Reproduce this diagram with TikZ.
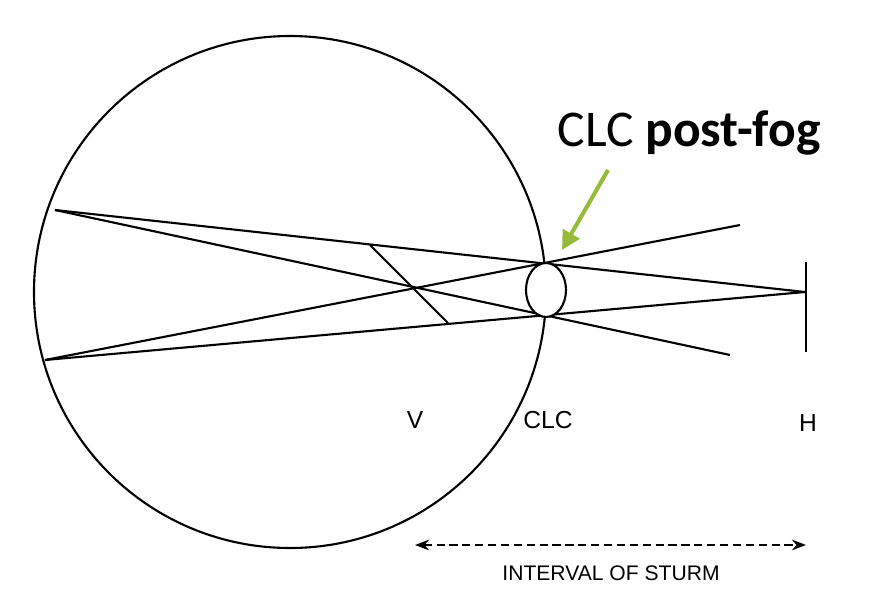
\documentclass[tikz,border=0pt]{standalone}
\usepackage{fontspec}
\setmainfont{Liberation Sans}
\newfontfamily\carlitofont{Carlito}
\usetikzlibrary{arrows.meta}
\definecolor{arrowgreen}{RGB}{150,186,60}
\begin{document}
\begin{tikzpicture}[x=0.03cm,y=-0.03cm,
  ray/.style={line width=1.8pt,black},
  lbl/.style={font=\fontsize{21}{24}\selectfont}]
\useasboundingbox (0,0) rectangle (883,611);
\draw[ray] (290,292) circle[radius=256];
\coordinate (A) at (55,210);
\coordinate (B) at (45,360);
\coordinate (H) at (805,292);
\coordinate (UR) at (740,225);
\coordinate (LR) at (730,355);
\draw[ray] (A) -- (H);
\draw[ray] (A) -- (LR);
\draw[ray] (B) -- (H);
\draw[ray] (B) -- (UR);
\draw[ray] (370,245) -- (448,323);
\draw[ray,fill=white] (546,290) ellipse[x radius=20,y radius=27];
\draw[ray] (806,262) -- (806,352);
\node[lbl] (v) at (415,420) {V};
\node[lbl] (clc) at (548,420) {CLC};
\node[lbl] (h) at (808,423) {H};
\coordinate (d1) at (415,545);
\coordinate (d2) at (806,545);
\draw[line width=1.8pt,dash pattern=on 7pt off 4pt,{Stealth[length=12pt]}-{Stealth[length=12pt]}] (d1) -- (d2);
\node[lbl,font=\fontsize{18}{20}\selectfont] (ios) at (611,573) {INTERVAL OF STURM};
\node[font=\carlitofont\fontsize{44}{48}\selectfont] (post) at (689,133) {CLC \textbf{post-fog}};
\coordinate (gs) at (608,170);
\coordinate (ge) at (562,250);
\draw[arrowgreen,line width=3.5pt,-{Triangle[length=16pt,width=16pt]}] (gs) -- (ge);
\end{tikzpicture}
\end{document}
